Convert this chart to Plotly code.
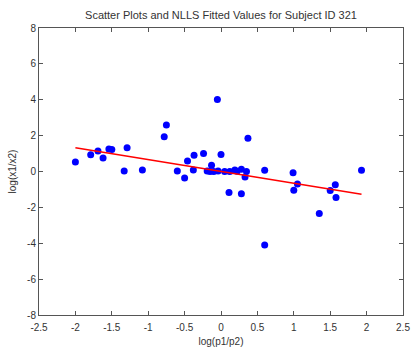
import plotly.graph_objects as go

x_obs = [-2.00, -1.79, -1.69, -1.62, -1.54, -1.50, -1.33, -1.29, -1.08, -0.78, -0.75,
         -0.60, -0.50, -0.46, -0.38, -0.37, -0.24, -0.19, -0.13, -0.15, -0.10, -0.05,
         -0.04, 0.00, 0.05, 0.11, 0.12, 0.19, 0.22, 0.28, 0.28, 0.33, 0.35, 0.37,
         0.60, 0.60, 0.99, 1.00, 1.05, 1.35, 1.50, 1.57, 1.58, 1.93]
y_obs = [0.53, 0.94, 1.14, 0.75, 1.25, 1.22, 0.03, 1.33, 0.08, 1.94, 2.59,
         0.03, -0.36, 0.58, 0.08, 0.90, 1.00, 0.03, 0.35, 0.00, 0.00, 4.02,
         0.03, 0.95, 0.00, -1.17, 0.00, 0.08, 0.02, 0.12, -1.24, -0.30, 0.00, 1.85,
         0.07, -4.10, -0.07, -1.05, -0.70, -2.34, -1.06, -0.74, -1.45, 0.07]

x_fit = [-2.00, 1.93]
y_fit = [1.32, -1.27]

x_ticks = [-2.5, -2, -1.5, -1, -0.5, 0, 0.5, 1, 1.5, 2, 2.5]
x_tick_labels = ["-2.5", "-2", "-1.5", "-1", "-0.5", "0", "0.5", "1", "1.5", "2", "2.5"]
y_ticks = [-8, -6, -4, -2, 0, 2, 4, 6, 8]
y_tick_labels = ["-8", "-6", "-4", "-2", "0", "2", "4", "6", "8"]

FONT = "Liberation Sans, Arial, sans-serif"
AX = "#555555"

fig = go.Figure()
fig.add_trace(go.Scatter(x=x_obs, y=y_obs, mode="markers",
                         marker=dict(color="#0000ff", size=7, line=dict(width=0)),
                         showlegend=False))
fig.add_trace(go.Scatter(x=x_fit, y=y_fit, mode="lines",
                         line=dict(color="#ff0000", width=1.5),
                         showlegend=False))

axis_common = dict(showgrid=False, zeroline=False, showline=True, linecolor=AX,
                   linewidth=1, mirror="ticks", ticks="inside", ticklen=4,
                   tickcolor=AX, tickfont=dict(family=FONT, size=10, color="#333333"),
                   fixedrange=True, automargin=False)

fig.update_layout(
    width=413, height=347,
    margin=dict(l=39, r=10, t=28, b=32),
    paper_bgcolor="white", plot_bgcolor="white",
    font=dict(family=FONT, size=10, color="#333333"),
    title=dict(text="Scatter Plots and NLLS Fitted Values for Subject ID 321",
               x=(39 + 403) / 2 / 413, xanchor="center", y=1 - 15 / 347, yanchor="middle",
               font=dict(family=FONT, size=11, color="#333333")),
    xaxis=dict(range=[-2.5, 2.5], tickvals=x_ticks, ticktext=x_tick_labels,
               ticklabelstandoff=3,
               title=dict(text="log(p1/p2)", standoff=6,
                          font=dict(family=FONT, size=10, color="#333333")),
               **axis_common),
    yaxis=dict(range=[-8, 8], tickvals=y_ticks, ticktext=y_tick_labels,
               title=dict(text="log(x1/x2)", standoff=8,
                          font=dict(family=FONT, size=10, color="#333333")),
               **axis_common),
)

fig.write_html("out.html")
